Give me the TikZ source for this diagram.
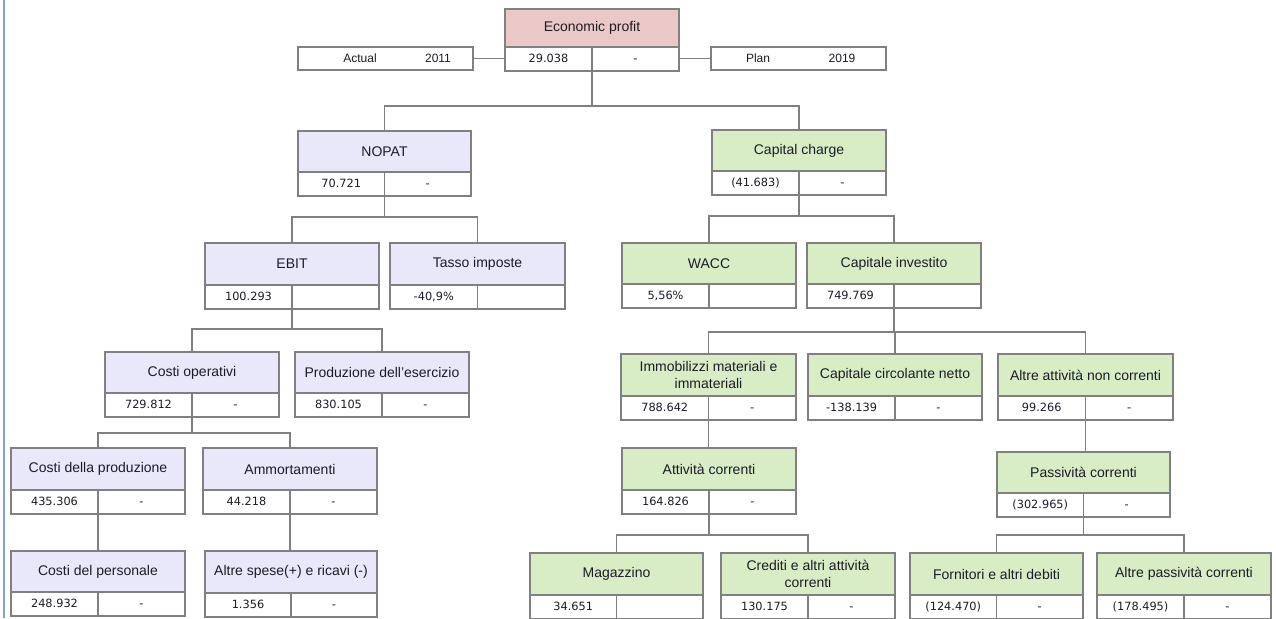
\documentclass[tikz,border=0pt]{standalone}
\usepackage{fontspec}
\setmainfont{Liberation Sans}
\newfontfamily\valfont{DejaVu Sans}
\usetikzlibrary{calc}
\definecolor{bordergray}{HTML}{808080}
\definecolor{pinkh}{HTML}{EBC8C8}
\definecolor{lavh}{HTML}{E8E8FA}
\definecolor{greenh}{HTML}{D8EDC5}
\definecolor{edgeblue}{HTML}{7DA3D6}
\definecolor{txt}{HTML}{1C1C28}
\tikzset{
  hdr/.style={draw=bordergray, line width=1.4pt, text=txt, align=center, inner sep=1pt, outer sep=0pt,
    font=\fontsize{10.5}{12.5}\selectfont},
  cell/.style={draw=bordergray, line width=1.4pt, fill=white, text=txt, inner sep=1pt, outer sep=0pt,
    text height=6.6pt, text depth=1.6pt, font=\valfont\fontsize{8.5}{10}\selectfont},
  conn/.style={draw=bordergray, line width=1.3pt},
  small/.style={text=txt, inner sep=0pt, font=\fontsize{9}{11}\selectfont}
}
% #1 name, #2 x1, #3 y1, #4 x2, #5 header height, #6 fill, #7 title, #8 v1, #9 v2
\newcommand\ebox[9]{%
  \node[hdr, fill=#6, minimum width={(#4-#2)*0.75pt}, minimum height={#5*0.75pt}, anchor=north west] (#1) at (#2,#3) {#7};
  \node[cell, minimum width={(#4-#2)*0.375pt}, minimum height=18pt, anchor=north west] (#1-l) at (#1.south west) {#8};
  \node[cell, minimum width={(#4-#2)*0.375pt}, minimum height=18pt, anchor=north east] (#1-r) at (#1.south east) {#9};
}
\begin{document}
\begin{tikzpicture}[x=0.75pt, y=-0.75pt]
\useasboundingbox (0,0) rectangle (1276,618);
\fill[white] (0,0) rectangle (1276,618);
\draw[edgeblue, line width=1.5pt] (4,0) -- (4,618);

% top
\ebox{ep}{505}{9}{679}{38}{pinkh}{Economic profit}{29.038}{-}
\node[cell, minimum width={175*0.75pt}, minimum height={23*0.75pt}, anchor=north west] (act) at (298,47) {};
\node[small] (actl) at (360,58) {Actual};
\node[small] (acty) at (438,58) {2011};
\node[cell, minimum width={175*0.75pt}, minimum height={23*0.75pt}, anchor=north west] (plan) at (711,47) {};
\node[small] (planl) at (758,58) {Plan};
\node[small] (plany) at (842,58) {2019};
\draw[conn] (act.east) -- (act.east -| ep-l.west);
\draw[conn] (plan.west -| ep-r.east) -- (plan.west);

% level 2
\ebox{np}{298}{131}{471}{41}{lavh}{NOPAT}{70.721}{-}
\ebox{cc}{712}{130}{886}{41}{greenh}{Capital charge}{(41.683)}{-}

% level 3
\ebox{ebit}{205}{243}{379}{42}{lavh}{EBIT}{100.293}{}
\ebox{ti}{390}{243}{565}{42}{lavh}{Tasso imposte}{-40,9\%}{}
\ebox{wacc}{622}{243}{796}{41}{greenh}{WACC}{5,56\%}{}
\ebox{ci}{807}{243}{981}{41}{greenh}{Capitale investito}{749.769}{}

% level 4
\ebox{co}{105}{352}{279}{41}{lavh}{Costi operativi}{729.812}{-}
\ebox{pe}{295}{352}{469}{41}{lavh}{Produzione dell'esercizio}{830.105}{-}
\ebox{im}{621}{354}{796}{42}{greenh}{Immobilizzi materiali e\\immateriali}{788.642}{-}
\ebox{ccn}{808}{354}{982}{42}{greenh}{Capitale circolante netto}{-138.139}{-}
\ebox{aanc}{998}{354}{1173}{42}{greenh}{Altre attività non correnti}{99.266}{-}

% level 5
\ebox{cdp}{11}{448}{185}{42}{lavh}{Costi della produzione}{435.306}{-}
\ebox{am}{203}{448}{377}{42}{lavh}{Ammortamenti}{44.218}{-}
\ebox{ac}{622}{448}{796}{42}{greenh}{Attività correnti}{164.826}{-}
\ebox{pc}{997}{452}{1170}{41}{greenh}{Passività correnti}{(302.965)}{-}

% level 6
\ebox{cpers}{11}{551}{185}{41}{lavh}{Costi del personale}{248.932}{-}
\ebox{as}{205}{551}{377}{42}{lavh}{Altre spese(+) e ricavi (-)}{1.356}{-}
\ebox{mag}{530}{553}{703}{42}{greenh}{Magazzino}{34.651}{}
\ebox{cr}{721}{553}{895}{42}{greenh}{Crediti e altri attività\\correnti}{130.175}{-}
\ebox{fo}{910}{553}{1083}{42}{greenh}{Fornitori e altri debiti}{(124.470)}{-}
\ebox{ap}{1097}{553}{1271}{42}{greenh}{Altre passività correnti}{(178.495)}{-}

% connectors
\draw[conn] (ep-l.south east) -- ++(0,35) -| (np.north);
\draw[conn] (ep-l.south east) -- ++(0,35) -| (cc.north);
\draw[conn] (np-l.south east) -- ++(0,21) -| (ebit.north);
\draw[conn] (np-l.south east) -- ++(0,21) -| (ti.north);
\draw[conn] (cc-l.south east) -- ++(0,21) -| (wacc.north);
\draw[conn] (cc-l.south east) -- ++(0,21) -| (ci.north);
\draw[conn] (ebit-l.south east) -- ++(0,20) -| (co.north);
\draw[conn] (ebit-l.south east) -- ++(0,20) -| (pe.north);
\draw[conn] (ci-l.south east) -- ++(0,24) -| (im.north);
\draw[conn] (ci-l.south east) -- ++(0,24) -| (ccn.north);
\draw[conn] (ci-l.south east) -- ++(0,24) -| (aanc.north);
\draw[conn] (co-l.south east) -- ++(0,16) -| (cdp.north);
\draw[conn] (co-l.south east) -- ++(0,16) -| (am.north);
\draw[conn] (cdp-l.south east) -- (cdp-l.south east |- cpers.north);
\draw[conn] (am-l.south east) -- (am-l.south east |- as.north);
\draw[conn] (im-l.south east) -- (im-l.south east |- ac.north);
\draw[conn] (ac-l.south east) -- ++(0,21) -| (mag.north);
\draw[conn] (ac-l.south east) -- ++(0,21) -| (cr.north);
\draw[conn] (aanc-l.south east) -- (aanc-l.south east |- pc.north);
\draw[conn] (pc-l.south east) -- ++(0,18) -| (fo.north);
\draw[conn] (pc-l.south east) -- ++(0,18) -| (ap.north);
\end{tikzpicture}
\end{document}
